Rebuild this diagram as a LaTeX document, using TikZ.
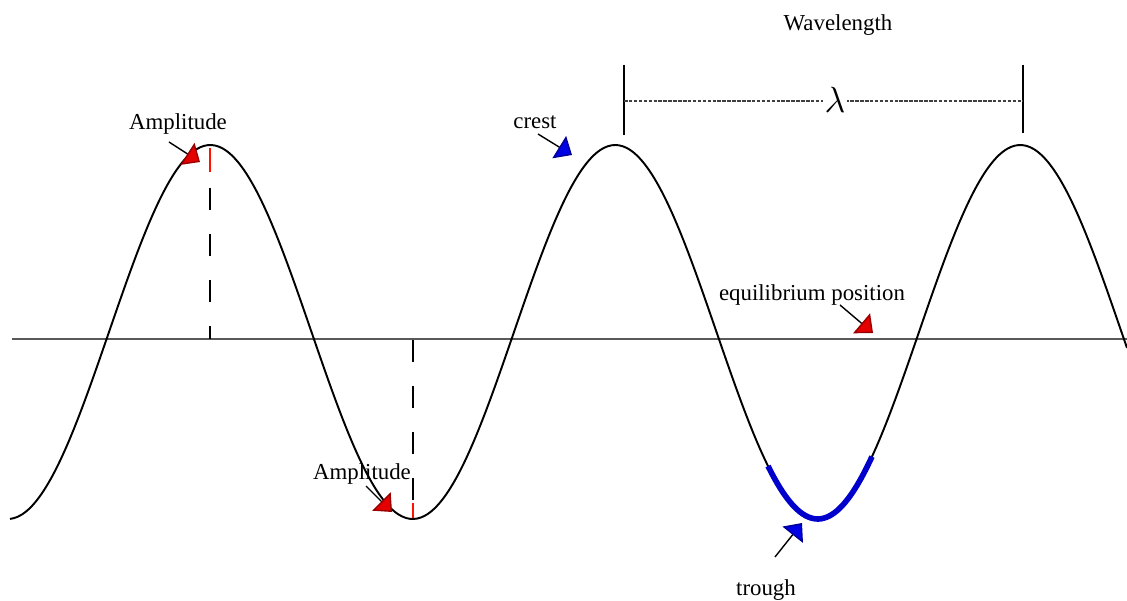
\documentclass[tikz,border=0pt]{standalone}
\usepackage{fontspec}
\setmainfont{Liberation Serif}
\usetikzlibrary{arrows.meta}

\tikzset{
  declare function={wavey(\x)=332-187*sin((\x-109)*0.888889);},
  wavelabel/.style={font=\fontsize{13}{15}\selectfont, inner sep=1pt},
  pointer/.style={line width=0.8pt, -{Triangle[width=0.52cm,length=0.3cm,fill=#1!90!black,color=#1!60!black]}},
  ampdash/.style={line width=1.1pt, dash pattern=on 12.5pt off 13.7pt},
  redtick/.style={red!85!orange, line width=1.5pt},
}

\begin{document}
\begin{tikzpicture}[x=0.02cm, y=-0.02cm]
    \useasboundingbox (0,0) rectangle (1127,601);

    % Equilibrium line
    \draw[gray!70!black, line width=1.6pt] (12,339) -- (1127,339);

    % Dashed amplitude markers
    \draw[ampdash] (210,188) -- (210,339);
    \draw[redtick] (210,148) -- (210,172);
    \draw[ampdash] (413,340) -- (413,500);
    \draw[redtick] (413,503) -- (413,518);

    % The wave
    \draw[line width=1.1pt] plot[domain=10:1127, samples=300, smooth] (\x, {wavey(\x)});

    % Trough highlight
    \draw[blue!80!black, line width=3.2pt] plot[domain=768:872, samples=40, smooth] (\x, {wavey(\x)});

    % --- WAVELENGTH BRACKET ---
    \coordinate (lamL) at (624,101);
    \coordinate (lamR) at (1023,101);
    \draw[line width=1.1pt] (624,65) -- (624,135);
    \draw[line width=1.1pt] (1023,65) -- (1023,133);
    \draw[gray!50!black, line width=1pt, dash pattern=on 2pt off 0.8pt] (lamL) -- (lamR);
    \node[fill=white, inner sep=1pt, font=\fontsize{22}{24}\selectfont] (lam) at (835,100) {$\lambda$};
    \node[wavelabel] (wlen) at (838,25) {Wavelength};

    % --- LABELS AND POINTERS ---
    % Amplitude (crest)
    \node[wavelabel] (ampA) at (178,124) {Amplitude};
    \coordinate (ampAtail) at (169,142);
    \coordinate (ampAtip) at (200,162);
    \draw[pointer=red] (ampAtail) -- (ampAtip);

    % Amplitude (trough)
    \node[wavelabel] (ampB) at (362,474) {Amplitude};
    \coordinate (ampBtail) at (366,486);
    \coordinate (ampBtip) at (392,512);
    \draw[pointer=red] (ampBtail) -- (ampBtip);

    % crest
    \node[wavelabel] (crest) at (535,122) {crest};
    \coordinate (cresttail) at (538,134);
    \coordinate (cresttip) at (572,155);
    \draw[pointer=blue] (cresttail) -- (cresttip);

    % equilibrium position
    \node[wavelabel] (equil) at (812,295) {equilibrium position};
    \coordinate (equiltail) at (840,305);
    \coordinate (equiltip) at (873,333);
    \draw[pointer=red] (equiltail) -- (equiltip);

    % trough
    \node[wavelabel] (trough) at (766,590) {trough};
    \coordinate (troughtail) at (775,557);
    \coordinate (troughtip) at (802,523);
    \draw[pointer=blue] (troughtail) -- (troughtip);
\end{tikzpicture}
\end{document}
